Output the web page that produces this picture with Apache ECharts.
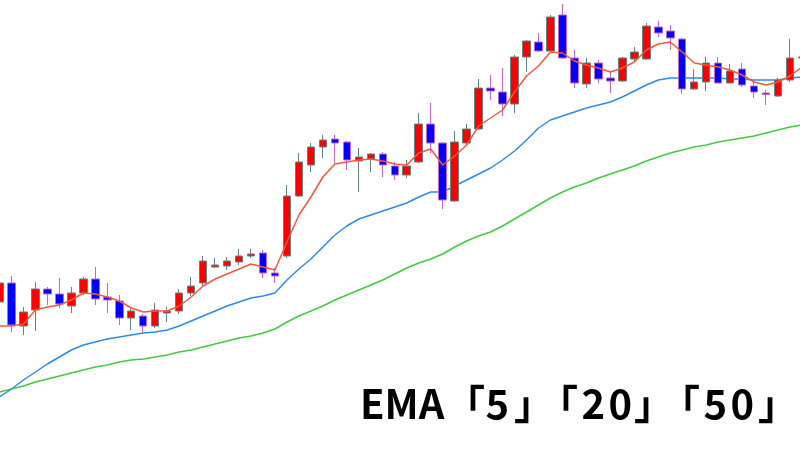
<!DOCTYPE html>
<html>
<head>
<meta charset="utf-8">
<script src="https://cdn.jsdelivr.net/npm/echarts@6/dist/echarts.min.js"></script>
<style>
html,body{margin:0;padding:0;background:#fff;overflow:hidden;width:800px;height:450px;}
#c{position:absolute;left:-7px;top:0;width:815px;height:450px;}
</style>
</head>
<body>
<div id="c"></div>
<script>
// Candles: [open, close, low, high]
const categories = Array.from({length: 68}, (_, i) => 'D' + (i + 1));
const candles = [
 [148,167,144,174],[167,125,118,174],[124,138,115,143],[140,161,119,168],[161,156,145,163],
 [156,146,142,172],[144,157,137,163],[157,171,155,173],[171,151,145,183],[153,150,137,167],
 [149,132,125,155],[132,139,120,143],[134,124,117,136],[124,140,122,147],[137,139,128,143],
 [139,157,136,161],[157,164,154,173],[167,189,163,194],[183,185,182,192],[184,189,180,193],
 [188,194,185,201],[194,196,192,201],[197,177,172,200],[177,174,167,182],[194,254,192,265],
 [254,288,253,297],[285,303,278,307],[303,310,292,315],[311,307,287,315],[308,290,280,309],
 [289,293,258,302],[291,296,278,297],[296,285,273,298],[284,275,270,288],[275,284,272,290],
 [288,326,287,337],[326,307,297,347],[307,250,241,308],[249,308,248,319],[307,321,305,326],
 [321,362,320,371],[362,359,350,375],[358,346,334,382],[346,393,337,395],[393,409,378,410],
 [408,399,398,417],[399,433,398,435],[435,392,391,446],[392,367,362,400],[366,387,362,392],
 [387,371,367,390],[372,369,357,378],[369,392,368,393],[391,398,388,403],[391,424,390,427],
 [423,417,413,429],[419,412,400,425],[411,361,356,412],[361,368,360,381],[368,387,359,393],
 [387,367,367,393],[367,379,367,386],[381,365,363,387],[364,358,352,370],[357,355.5,345,360],
 [354,370,353,372],[370,392,368,411],[392,393,390,395]
];
const ema5 = [124,124,126,140,143,145,150,157,156,153,149,142,138,139,139,144,153,164,171,176,181,186,183,180,208,235,253,273,286,288,290,291,289,286,285,297,301,285,294,305,324,332,340,358,374,384,398,397,389,385,382,378,382,388,400,406,408,398,387,385,383,380,375,368,365,368,374,383];
const ema20 = [53,61,70,78,86,93,100,105,108,111,113,115,117,118,120,124,129,134,139,144,148,152,154,157,170,181,191,203,215,224,231,235,239,243,247,253,258,258,264,270,276,282,290,299,310,322,330,334,338,342,345,348,353,359,365,370,372,372,372,372,372,371,371,370,370,370,372,373];
const ema50 = [58,61,64,68,71,74,77,80,83,85,88,90,91,93,95,98,100,103,106,109,112,114,117,121,128,134,139,144,150,155,160,165,170,176,182,187,191,196,203,209,214,218,224,231,238,245,252,258,263,267,272,276,280,284,289,293,297,300,303,305,308,310,312,314,317,320,323,325];
// Title pieces: EMA「5」「20」「50」
const titlePieces = ['EMA', '「', '5', '」', '「', '2', '0', '」', '「', '5', '0', '」'];
const titleWidths = [85, 40.5, 28.5, 24, 43.5, 27, 25.5, 26, 43.5, 27, 27.5, 40];

const offsetX = 7; // container is shifted 7px left
const rich = {};
let richText = '';
titlePieces.forEach((p, i) => {
  rich['p' + i] = {width: titleWidths[i], align: 'left', fill: '#000',
    font: 'bold 40px "Noto Sans CJK JP"', fontSize: 40, fontWeight: 'bold', fontFamily: 'Noto Sans CJK JP'};
  richText += '{p' + i + '|' + p + '}';
});

const chart = echarts.init(document.getElementById('c'));
chart.setOption({
  animation: false,
  backgroundColor: '#ffffff',
  grid: {left: 0.5, right: 0, top: 0, bottom: 0, containLabel: false},
  xAxis: {type: 'category', data: categories, boundaryGap: true, show: false},
  yAxis: {type: 'value', min: 0, max: 450, show: false, splitLine: {show: false}},
  series: [
    {type: 'line', data: ema50, symbol: 'none', smooth: false, z: 2,
     lineStyle: {color: '#3fcc3f', width: 1.5}},
    {type: 'line', data: ema20, symbol: 'none', smooth: false, z: 2,
     lineStyle: {color: '#2a8cea', width: 1.5}},
    {type: 'candlestick', data: candles, barWidth: 8, z: 3,
     itemStyle: {color: '#ff0000', color0: '#0000ff', borderColor: '#5f8585', borderColor0: '#c468c8', borderWidth: 1}},
    {type: 'line', data: ema5, symbol: 'none', smooth: false, z: 4,
     lineStyle: {color: '#f5583c', width: 1.5}}
  ],
  graphic: [{
    type: 'text', x: 360 + offsetX, y: 384, z: 10,
    style: {text: richText, rich: rich, fill: '#000', fontSize: 40, fontWeight: 'bold', fontFamily: 'Noto Sans CJK JP'}
  }]
});
</script>
</body>
</html>
